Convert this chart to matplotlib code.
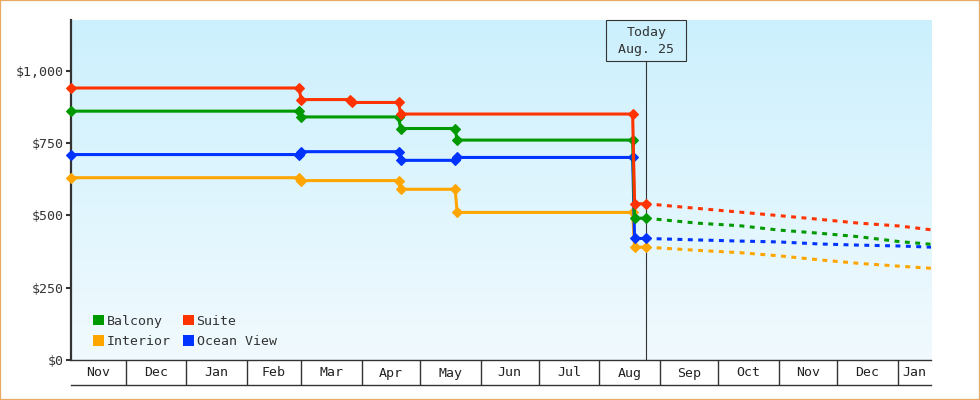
import matplotlib
matplotlib.use('Agg')
import matplotlib.pyplot as plt
import matplotlib.dates as mdates
import matplotlib.transforms as mtransforms
from matplotlib.patches import Rectangle, Patch
from matplotlib.colors import LinearSegmentedColormap
from matplotlib.ticker import FuncFormatter
import numpy as np

# ---------------- data ----------------
series_names = ['Balcony', 'Suite', 'Interior', 'Ocean View']
series_colors = ['#009900', '#FF3300', '#FFA500', '#0033FF']

hist_dates_common = ['2014-11-03', '2015-02-28', '2015-03-01', '2015-04-20', '2015-04-21',
                     '2015-05-19', '2015-05-20', '2015-08-18', '2015-08-19', '2015-08-25']
suite_dates = ['2014-11-03', '2015-02-28', '2015-03-01', '2015-03-26', '2015-03-27',
               '2015-04-20', '2015-04-21', '2015-08-18', '2015-08-19', '2015-08-25']

balcony_prices = [860, 860, 840, 840, 800, 800, 760, 760, 490, 490]
suite_prices = [940, 940, 900, 900, 890, 890, 850, 850, 540, 540]
interior_prices = [630, 630, 620, 620, 590, 590, 510, 510, 390, 390]
ocean_prices = [710, 710, 720, 720, 690, 690, 700, 700, 420, 420]

forecast_dates = ['2015-08-25', '2015-09-20', '2015-10-12', '2015-11-01', '2015-11-22',
                  '2015-12-12', '2016-01-02', '2016-01-18']
balcony_fc = [490, 473, 464, 449, 438, 426, 409, 400]
suite_fc = [540, 524, 511, 499, 486, 473, 463, 450]
interior_fc = [390, 379, 371, 360, 346, 334, 324, 317]
ocean_fc = [420, 415, 411, 408, 401, 397, 394, 390]

month_starts = ['2014-12-01', '2015-01-01', '2015-02-01', '2015-03-01', '2015-04-01',
                '2015-05-01', '2015-06-01', '2015-07-01', '2015-08-01', '2015-09-01',
                '2015-10-01', '2015-11-01', '2015-12-01', '2016-01-01']
month_labels = ['Nov', 'Dec', 'Jan', 'Feb', 'Mar', 'Apr', 'May', 'Jun', 'Jul', 'Aug',
                'Sep', 'Oct', 'Nov', 'Dec', 'Jan']

x_start = '2014-11-03'
x_end = '2016-01-18'
today = '2015-08-25'
today_label = ['Today', 'Aug. 25']
y_ticks = [0, 250, 500, 750, 1000]

# ---------------- helpers ----------------
def dn(lst):
    return mdates.datestr2num(lst)

FONT = 'DejaVu Sans Mono'
FS = 9.5
TXT = '#333333'

fig = plt.figure(figsize=(9.8, 4.0), dpi=100)
W, H = 980.0, 400.0
ax = fig.add_axes([71 / W, 40 / H, 860 / W, 340 / H])

# gradient background
cmap = LinearSegmentedColormap.from_list('bg', ['#F1FAFE', '#CCF0FD'])
grad = np.linspace(0, 1, 256).reshape(-1, 1)
ax.imshow(grad, extent=[0, 1, 0, 1], transform=ax.transAxes, aspect='auto',
          cmap=cmap, origin='lower', zorder=0, interpolation='bicubic')
ax.patch.set_visible(False)

x0, x1 = dn([x_start, x_end])
ax.set_xlim(x0, x1)
ax.set_ylim(0, 1175)
ax.set_autoscale_on(False)

lw = 2.2
msz = 4.6
hist = [
    (hist_dates_common, interior_prices, interior_fc, 2),
    (hist_dates_common, ocean_prices, ocean_fc, 3),
    (hist_dates_common, balcony_prices, balcony_fc, 0),
    (suite_dates, suite_prices, suite_fc, 1),
]
for dates, prices, fc, idx in hist:
    c = series_colors[idx]
    ax.plot(dn(forecast_dates), fc, color=c, lw=lw, ls=(0, (1.6, 1.8)),
            dash_capstyle='butt', zorder=3)
    ax.plot(dn(dates), prices, color=c, lw=lw, marker='D', ms=msz, mew=0.8,
            mec=c, mfc=c, zorder=4, solid_joinstyle='miter', clip_on=False)

# today marker line + box
t = dn([today])[0]
box_h = 40.7 / 340
ax.axvline(t, ymin=0, ymax=1 - box_h, color='#333333', lw=0.8, zorder=2)
half_w = 40.0 / (860.0 / (x1 - x0))
trans = mtransforms.blended_transform_factory(ax.transData, ax.transAxes)
ax.add_patch(Rectangle((t - half_w, 1 - box_h), 2 * half_w, box_h, transform=trans,
                       facecolor='none', edgecolor='#333333', lw=0.8, zorder=5,
                       clip_on=False))
ax.text(t, (360 - 32.7) / 340, today_label[0], transform=trans, ha='center', va='center',
        fontsize=FS, family=FONT, color=TXT, zorder=6)
ax.text(t, (360 - 50.0) / 340, today_label[1], transform=trans, ha='center', va='center',
        fontsize=FS, family=FONT, color=TXT, zorder=6)

# axes styling
for s in ['top', 'right']:
    ax.spines[s].set_visible(False)
ax.spines['left'].set_color('#333333')
ax.spines['left'].set_linewidth(1.6)
ax.spines['left'].set_zorder(2.5)
ax.spines['bottom'].set_visible(False)
ax.set_yticks(y_ticks)
ax.yaxis.set_major_formatter(FuncFormatter(lambda v, p: f"${v:,.0f}"))
ax.tick_params(axis='y', length=3.5, width=1.5, color='#333333', pad=2,
               labelsize=FS, labelcolor=TXT)
for lab in ax.get_yticklabels():
    lab.set_family(FONT)
ax.set_xticks([])

# legend
handles = [Patch(facecolor=series_colors[i], edgecolor='none') for i in [0, 2, 1, 3]]
labels = [series_names[i] for i in [0, 2, 1, 3]]
leg = ax.legend(handles, labels, ncol=2, loc='lower left',
                bbox_to_anchor=((93 - 71) / 860, (360 - 348) / 340),
                frameon=False, borderpad=0, borderaxespad=0,
                handlelength=0.85, handleheight=0.85, handletextpad=0.2,
                columnspacing=0.9, labelspacing=0.55,
                prop={'family': FONT, 'size': FS})
for txt in leg.get_texts():
    txt.set_color(TXT)

# month strip
ax2 = fig.add_axes([71 / W, 15 / H, 860 / W, 25 / H])
ax2.set_xlim(x0, x1)
ax2.set_ylim(0, 1)
ax2.patch.set_visible(False)
for s in ['left', 'right']:
    ax2.spines[s].set_visible(False)
for s in ['top', 'bottom']:
    ax2.spines[s].set_color('#333333')
    ax2.spines[s].set_linewidth(1.0)
ax2.set_xticks([])
ax2.set_yticks([])
ms = dn(month_starts)
ax2.vlines(ms, 0, 1, color='#333333', lw=1.0)
bounds = np.concatenate([[x0], ms, [x1]])
for i, lab in enumerate(month_labels):
    ax2.text((bounds[i] + bounds[i + 1]) / 2, 0.48, lab, ha='center', va='center',
             fontsize=FS, family=FONT, color='#222222')

# figure border
fig.patches.append(Rectangle((0, 0), 1, 1, transform=fig.transFigure, fill=False,
                             edgecolor='#E8A860', lw=1.6))

fig.savefig('out.png', dpi=100, facecolor='white')
